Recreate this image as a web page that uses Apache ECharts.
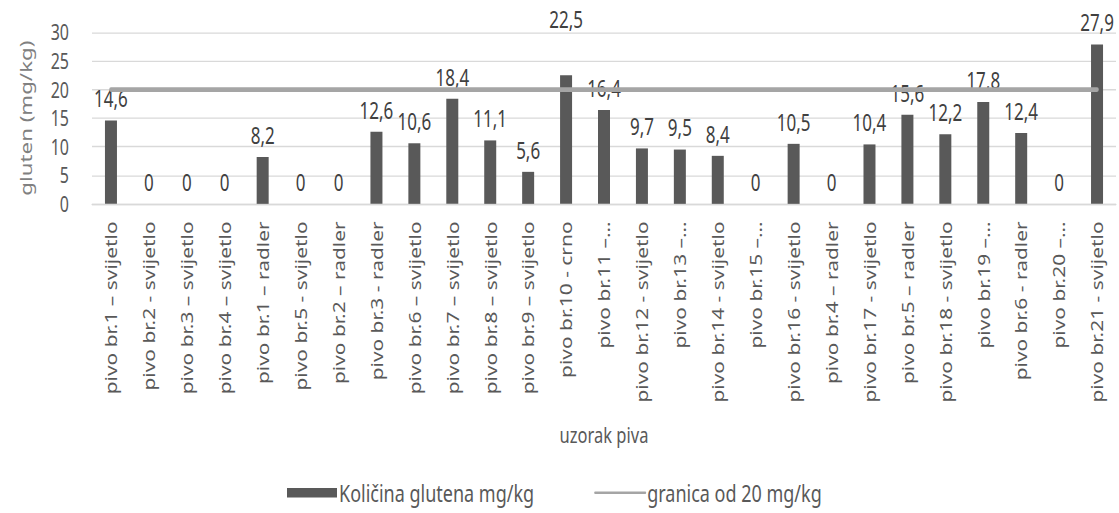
<!DOCTYPE html>
<html>
<head>
<meta charset="utf-8">
<script src="https://cdn.jsdelivr.net/npm/echarts@6/dist/echarts.min.js"></script>
<style>
  html, body { margin: 0; padding: 0; background: #ffffff; width: 1119px; height: 513px; }
  /* chart is laid out on a shorter canvas and stretched vertically to fill the frame */
  #chart { width: 1119px; height: 380px; transform: scaleY(1.35); transform-origin: 0 0; }
</style>
</head>
<body>
<div id="chart"></div>
<script>
// Beer samples (x axis)
const samples = [
  'pivo br.1 – svijetlo', 'pivo br.2 - svijetlo', 'pivo br.3 – svijetlo', 'pivo br.4 – svijetlo',
  'pivo br.1 – radler', 'pivo br.5 - svijetlo', 'pivo br.2 – radler', 'pivo br.3 - radler',
  'pivo br.6 – svijetlo', 'pivo br.7 – svijetlo', 'pivo br.8 – svijetlo', 'pivo br.9 – svijetlo',
  'pivo br.10 - crno', 'pivo br.11 –…', 'pivo br.12 - svijetlo', 'pivo br.13 –…',
  'pivo br.14 - svijetlo', 'pivo br.15 –…', 'pivo br.16 - svijetlo', 'pivo br.4 – radler',
  'pivo br.17 - svijetlo', 'pivo br.5 – radler', 'pivo br.18 - svijetlo', 'pivo br.19 –…',
  'pivo br.6 - radler', 'pivo br.20 –…', 'pivo br.21 - svijetlo'
];

// Measured gluten content, mg/kg
const gluten = [
  14.6, 0, 0, 0, 8.2, 0, 0, 12.6, 10.6, 18.4, 11.1, 5.6, 22.5, 16.4,
  9.7, 9.5, 8.4, 0, 10.5, 0, 10.4, 15.6, 12.2, 17.8, 12.4, 0, 27.9
];

// Regulatory limit, mg/kg
const limitValue = 20;
const limit = samples.map(() => limitValue);

const seriesNames = ['Količina glutena mg/kg', 'granica od 20 mg/kg'];

const FONT = 'Noto Sans';
const fmt = v => String(v).replace('.', ',');

const chart = echarts.init(document.getElementById('chart'), null, { renderer: 'svg' });

chart.setOption({
  animation: false,
  backgroundColor: '#ffffff',
  textStyle: { fontFamily: FONT },
  grid: { left: 92, right: 3, top: 24, bottom: 229, containLabel: false },
  legend: {
    left: 282,
    top: 351,
    itemGap: 60,
    textStyle: { color: '#595959', fontSize: 18, fontFamily: FONT, padding: [0, 0, 0, -3] },
    data: [
      { name: seriesNames[0], icon: 'rect', itemStyle: { color: '#595959' } },
      // plain line key, no point marker
      { name: seriesNames[1], itemStyle: { opacity: 0 } }
    ],
    itemWidth: 50,
    itemHeight: 7
  },
  xAxis: {
    type: 'category',
    data: samples,
    name: 'uzorak piva',
    nameLocation: 'middle',
    nameGap: 162,
    nameTextStyle: { color: '#595959', fontSize: 16.5, fontFamily: FONT },
    axisLine: { lineStyle: { color: '#d9d9d9', width: 1 } },
    axisTick: { show: false },
    axisLabel: {
      interval: 0,
      rotate: 90,
      margin: 13,
      color: '#595959',
      fontSize: 15.5,
      fontFamily: FONT
    }
  },
  yAxis: {
    type: 'value',
    min: 0,
    max: 30,
    interval: 5,
    name: 'gluten (mg/kg)',
    nameLocation: 'middle',
    nameGap: 58,
    nameTextStyle: { color: '#808080', fontSize: 16.5, fontFamily: FONT },
    axisLine: { show: false },
    axisTick: { show: false },
    axisLabel: { color: '#595959', fontSize: 16, margin: 23, fontFamily: FONT },
    splitLine: { lineStyle: { color: '#d9d9d9', width: 1 } }
  },
  series: [
    {
      name: seriesNames[0],
      type: 'bar',
      barWidth: 12,
      itemStyle: { color: '#595959' },
      label: {
        show: true,
        position: 'top',
        distance: 8,
        color: '#404040',
        fontSize: 17,
        fontFamily: FONT,
        formatter: p => fmt(p.value)
      },
      // the 22,5 label sits above the limit line
      data: gluten.map((v, i) => i === 12 ? { value: v, label: { distance: 33 } } : v),
      z: 2
    },
    {
      name: seriesNames[1],
      type: 'line',
      data: limit,
      symbol: 'none',
      lineStyle: { color: '#a5a5a5', width: 3.5, cap: 'round' },
      itemStyle: { color: '#a5a5a5' },
      z: 3
    }
  ]
});
</script>
</body>
</html>
